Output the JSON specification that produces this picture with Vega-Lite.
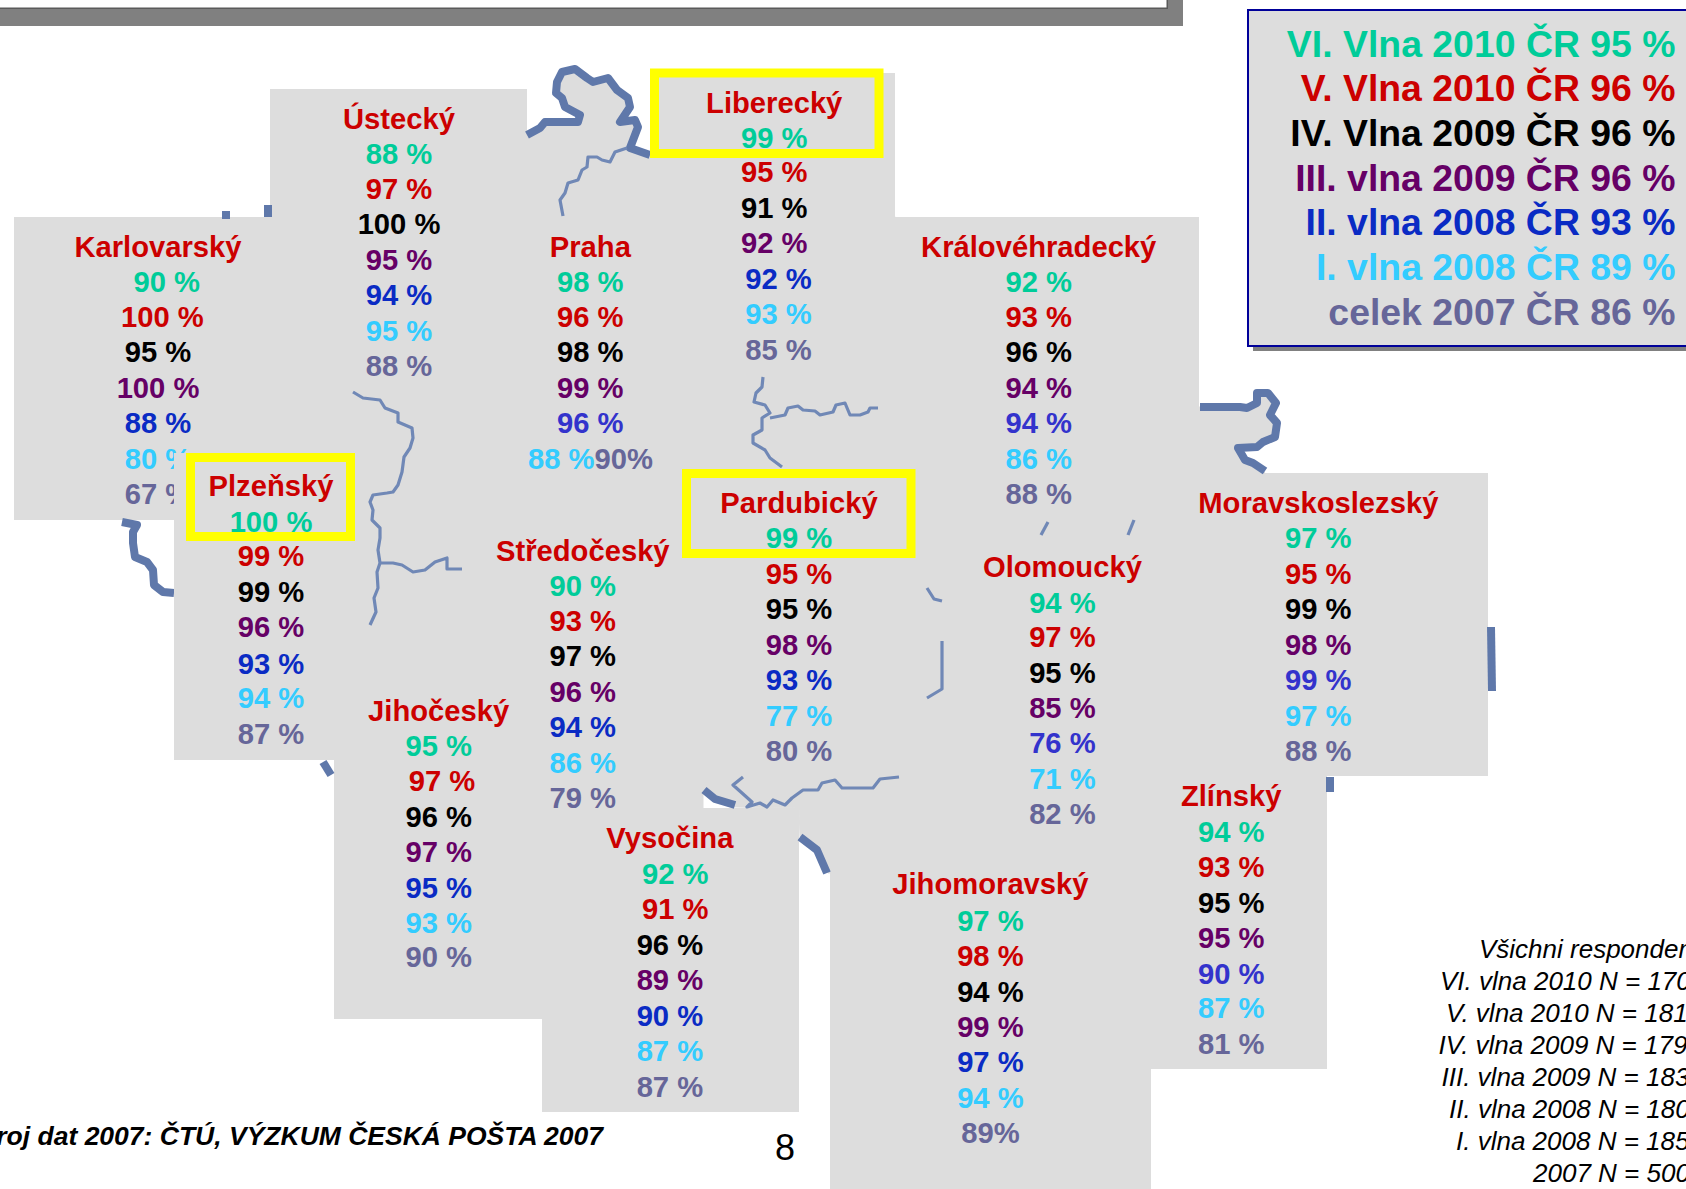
{"$schema":"https://vega.github.io/schema/vega-lite/v6.json","width":1686,"height":1189,"padding":0,"autosize":{"type":"none"},"background":"white","config":{"view":{"stroke":null},"text":{"font":"Liberation Sans"}},
"datasets":{
"band":[{"name":"horní pás","kind":"shadow","x0":0,"x1":1183,"y0":8,"y1":26},{"name":"horní pás bok","kind":"shadow","x0":1167,"x1":1183,"y0":0,"y1":26},{"name":"linka","kind":"edge","x0":0,"x1":1167,"y0":7.5,"y1":9},{"name":"linka bok","kind":"edge","x0":1166.5,"x1":1168,"y0":0,"y1":9},{"name":"stín legendy","kind":"shadow","x0":1253,"x1":1700,"y0":14,"y1":351}],
"country":[{"seq":1,"mx":527,"my":135},{"seq":2,"mx":540,"my":128},{"seq":3,"mx":545,"my":122},{"seq":4,"mx":578,"my":122},{"seq":5,"mx":580,"my":115},{"seq":6,"mx":565,"my":107},{"seq":7,"mx":562,"my":98},{"seq":8,"mx":556,"my":93},{"seq":9,"mx":557,"my":82},{"seq":10,"mx":562,"my":72},{"seq":11,"mx":575,"my":69},{"seq":12,"mx":587,"my":78},{"seq":13,"mx":593,"my":82},{"seq":14,"mx":608,"my":78},{"seq":15,"mx":617,"my":90},{"seq":16,"mx":628,"my":98},{"seq":17,"mx":630,"my":107},{"seq":18,"mx":620,"my":122},{"seq":19,"mx":635,"my":120},{"seq":20,"mx":638,"my":127},{"seq":21,"mx":630,"my":148},{"seq":22,"mx":650,"my":155},{"seq":23,"mx":895,"my":217},{"seq":24,"mx":1199,"my":407},{"seq":25,"mx":1240,"my":407},{"seq":26,"mx":1247,"my":408},{"seq":27,"mx":1257,"my":403},{"seq":28,"mx":1257,"my":393},{"seq":29,"mx":1268,"my":393},{"seq":30,"mx":1276,"my":403},{"seq":31,"mx":1270,"my":415},{"seq":32,"mx":1277,"my":423},{"seq":33,"mx":1275,"my":437},{"seq":34,"mx":1263,"my":442},{"seq":35,"mx":1257,"my":447},{"seq":36,"mx":1238,"my":448},{"seq":37,"mx":1245,"my":460},{"seq":38,"mx":1253,"my":463},{"seq":39,"mx":1265,"my":473},{"seq":40,"mx":1327,"my":776},{"seq":41,"mx":1151,"my":860},{"seq":42,"mx":828,"my":873},{"seq":43,"mx":817,"my":850},{"seq":44,"mx":800,"my":837},{"seq":45,"mx":799,"my":808},{"seq":46,"mx":735,"my":807},{"seq":47,"mx":715,"my":800},{"seq":48,"mx":703,"my":790},{"seq":49,"mx":703,"my":808},{"seq":50,"mx":542,"my":808},{"seq":51,"mx":334,"my":760},{"seq":52,"mx":300,"my":500},{"seq":53,"mx":300,"my":217}],
"panels":[{"name":"Ústecký","x0":270,"x1":527,"y0":89,"y1":390},{"name":"Karlovarský","x0":14,"x1":300,"y0":217,"y1":520},{"name":"Liberecký","x0":650,"x1":895,"y0":73,"y1":217},{"name":"Královéhradecký","x0":895,"x1":1199,"y0":217,"y1":520},{"name":"Moravskoslezský","x0":1199,"x1":1488,"y0":473,"y1":776},{"name":"Zlínský","x0":1090,"x1":1327,"y0":776,"y1":1069},{"name":"Jihomoravský","x0":830,"x1":1151,"y0":860,"y1":1189},{"name":"Vysočina","x0":542,"x1":799,"y0":808,"y1":1112},{"name":"Jihočeský","x0":334,"x1":542,"y0":700,"y1":1019}],
"plzen":[{"name":"Plzeňský","x0":174,"x1":366,"y0":453,"y1":760}],
"legendbox":[{"name":"legenda","x0":1248,"x1":1700,"y0":10,"y1":346}],
"yellow":[{"name":"Liberecký","x0":654.5,"x1":879,"y0":73,"y1":153.5},{"name":"Pardubický","x0":686.5,"x1":911,"y0":473.5,"y1":553.5},{"name":"Plzeňský","x0":190.5,"x1":350.5,"y0":457.5,"y1":536.5}],
"thick":[
{"path":"a","seq":1,"mx":527,"my":135},{"path":"a","seq":2,"mx":540,"my":128},{"path":"a","seq":3,"mx":545,"my":122},{"path":"a","seq":4,"mx":578,"my":122},{"path":"a","seq":5,"mx":580,"my":115},{"path":"a","seq":6,"mx":565,"my":107},{"path":"a","seq":7,"mx":562,"my":98},{"path":"a","seq":8,"mx":556,"my":93},{"path":"a","seq":9,"mx":557,"my":82},{"path":"a","seq":10,"mx":562,"my":72},{"path":"a","seq":11,"mx":575,"my":69},{"path":"a","seq":12,"mx":587,"my":78},{"path":"a","seq":13,"mx":593,"my":82},{"path":"a","seq":14,"mx":608,"my":78},{"path":"a","seq":15,"mx":617,"my":90},{"path":"a","seq":16,"mx":628,"my":98},{"path":"a","seq":17,"mx":630,"my":107},{"path":"a","seq":18,"mx":620,"my":122},{"path":"a","seq":19,"mx":635,"my":120},{"path":"a","seq":20,"mx":638,"my":127},{"path":"a","seq":21,"mx":630,"my":148},{"path":"a","seq":22,"mx":650,"my":155},
{"path":"b","seq":1,"mx":1200,"my":407},{"path":"b","seq":2,"mx":1240,"my":407},{"path":"b","seq":3,"mx":1247,"my":408},{"path":"b","seq":4,"mx":1257,"my":403},{"path":"b","seq":5,"mx":1257,"my":393},{"path":"b","seq":6,"mx":1268,"my":393},{"path":"b","seq":7,"mx":1276,"my":403},{"path":"b","seq":8,"mx":1270,"my":415},{"path":"b","seq":9,"mx":1277,"my":423},{"path":"b","seq":10,"mx":1275,"my":437},{"path":"b","seq":11,"mx":1263,"my":442},{"path":"b","seq":12,"mx":1257,"my":447},{"path":"b","seq":13,"mx":1238,"my":448},{"path":"b","seq":14,"mx":1245,"my":460},{"path":"b","seq":15,"mx":1253,"my":463},{"path":"b","seq":16,"mx":1265,"my":471},
{"path":"c","seq":1,"mx":122,"my":522},{"path":"c","seq":2,"mx":137,"my":525},{"path":"c","seq":3,"mx":133,"my":532},{"path":"c","seq":4,"mx":133,"my":543},{"path":"c","seq":5,"mx":135,"my":557},{"path":"c","seq":6,"mx":147,"my":562},{"path":"c","seq":7,"mx":153,"my":570},{"path":"c","seq":8,"mx":154,"my":585},{"path":"c","seq":9,"mx":163,"my":592},{"path":"c","seq":10,"mx":174,"my":593},
{"path":"d","seq":1,"mx":323,"my":762},{"path":"d","seq":2,"mx":331,"my":775},
{"path":"e","seq":1,"mx":704,"my":790},{"path":"e","seq":2,"mx":715,"my":799},{"path":"e","seq":3,"mx":735,"my":805},
{"path":"f","seq":1,"mx":800,"my":837},{"path":"f","seq":2,"mx":817,"my":850},{"path":"f","seq":3,"mx":827,"my":873},
{"path":"g","seq":1,"mx":1491,"my":627},{"path":"g","seq":2,"mx":1492,"my":691},
{"path":"h","seq":1,"mx":1330,"my":777},{"path":"h","seq":2,"mx":1330,"my":792},
{"path":"i","seq":1,"mx":222,"my":215},{"path":"i","seq":2,"mx":230,"my":215},
{"path":"j","seq":1,"mx":268,"my":205},{"path":"j","seq":2,"mx":268,"my":217}],
"thin":[
{"path":"r1","seq":1,"mx":627,"my":148},{"path":"r1","seq":2,"mx":615,"my":152},{"path":"r1","seq":3,"mx":610,"my":162},{"path":"r1","seq":4,"mx":602,"my":160},{"path":"r1","seq":5,"mx":597,"my":157},{"path":"r1","seq":6,"mx":588,"my":157},{"path":"r1","seq":7,"mx":587,"my":167},{"path":"r1","seq":8,"mx":582,"my":170},{"path":"r1","seq":9,"mx":578,"my":180},{"path":"r1","seq":10,"mx":568,"my":183},{"path":"r1","seq":11,"mx":565,"my":193},{"path":"r1","seq":12,"mx":560,"my":200},{"path":"r1","seq":13,"mx":563,"my":216},
{"path":"r2","seq":1,"mx":353,"my":392},{"path":"r2","seq":2,"mx":363,"my":398},{"path":"r2","seq":3,"mx":380,"my":400},{"path":"r2","seq":4,"mx":385,"my":408},{"path":"r2","seq":5,"mx":398,"my":413},{"path":"r2","seq":6,"mx":398,"my":422},{"path":"r2","seq":7,"mx":412,"my":428},{"path":"r2","seq":8,"mx":413,"my":438},{"path":"r2","seq":9,"mx":410,"my":448},{"path":"r2","seq":10,"mx":404,"my":457},{"path":"r2","seq":11,"mx":402,"my":472},{"path":"r2","seq":12,"mx":398,"my":485},{"path":"r2","seq":13,"mx":393,"my":492},{"path":"r2","seq":14,"mx":387,"my":493},{"path":"r2","seq":15,"mx":373,"my":495},{"path":"r2","seq":16,"mx":370,"my":502},{"path":"r2","seq":17,"mx":373,"my":510},{"path":"r2","seq":18,"mx":372,"my":520},{"path":"r2","seq":19,"mx":380,"my":528},{"path":"r2","seq":20,"mx":380,"my":538},{"path":"r2","seq":21,"mx":378,"my":550},{"path":"r2","seq":22,"mx":380,"my":563},{"path":"r2","seq":23,"mx":377,"my":572},{"path":"r2","seq":24,"mx":378,"my":588},{"path":"r2","seq":25,"mx":374,"my":598},{"path":"r2","seq":26,"mx":376,"my":612},{"path":"r2","seq":27,"mx":370,"my":625},
{"path":"r3","seq":1,"mx":380,"my":563},{"path":"r3","seq":2,"mx":393,"my":563},{"path":"r3","seq":3,"mx":402,"my":565},{"path":"r3","seq":4,"mx":413,"my":572},{"path":"r3","seq":5,"mx":425,"my":570},{"path":"r3","seq":6,"mx":435,"my":562},{"path":"r3","seq":7,"mx":447,"my":558},{"path":"r3","seq":8,"mx":447,"my":569},{"path":"r3","seq":9,"mx":462,"my":569},
{"path":"r4","seq":1,"mx":763,"my":377},{"path":"r4","seq":2,"mx":762,"my":387},{"path":"r4","seq":3,"mx":756,"my":393},{"path":"r4","seq":4,"mx":754,"my":402},{"path":"r4","seq":5,"mx":765,"my":405},{"path":"r4","seq":6,"mx":770,"my":413},{"path":"r4","seq":7,"mx":762,"my":418},{"path":"r4","seq":8,"mx":762,"my":430},{"path":"r4","seq":9,"mx":753,"my":435},{"path":"r4","seq":10,"mx":753,"my":443},{"path":"r4","seq":11,"mx":765,"my":450},{"path":"r4","seq":12,"mx":770,"my":458},{"path":"r4","seq":13,"mx":782,"my":467},
{"path":"r5","seq":1,"mx":770,"my":418},{"path":"r5","seq":2,"mx":785,"my":415},{"path":"r5","seq":3,"mx":788,"my":408},{"path":"r5","seq":4,"mx":798,"my":406},{"path":"r5","seq":5,"mx":803,"my":410},{"path":"r5","seq":6,"mx":815,"my":411},{"path":"r5","seq":7,"mx":820,"my":415},{"path":"r5","seq":8,"mx":833,"my":412},{"path":"r5","seq":9,"mx":836,"my":405},{"path":"r5","seq":10,"mx":845,"my":403},{"path":"r5","seq":11,"mx":850,"my":415},{"path":"r5","seq":12,"mx":860,"my":415},{"path":"r5","seq":13,"mx":868,"my":412},{"path":"r5","seq":14,"mx":870,"my":408},{"path":"r5","seq":15,"mx":878,"my":408},
{"path":"r6","seq":1,"mx":743,"my":777},{"path":"r6","seq":2,"mx":733,"my":785},{"path":"r6","seq":3,"mx":742,"my":793},{"path":"r6","seq":4,"mx":752,"my":802},{"path":"r6","seq":5,"mx":747,"my":807},{"path":"r6","seq":6,"mx":760,"my":803},{"path":"r6","seq":7,"mx":767,"my":807},{"path":"r6","seq":8,"mx":773,"my":800},{"path":"r6","seq":9,"mx":785,"my":805},{"path":"r6","seq":10,"mx":792,"my":798},{"path":"r6","seq":11,"mx":803,"my":790},{"path":"r6","seq":12,"mx":818,"my":790},{"path":"r6","seq":13,"mx":822,"my":783},{"path":"r6","seq":14,"mx":835,"my":780},{"path":"r6","seq":15,"mx":842,"my":788},{"path":"r6","seq":16,"mx":873,"my":788},{"path":"r6","seq":17,"mx":880,"my":779},{"path":"r6","seq":18,"mx":899,"my":777},
{"path":"r7","seq":1,"mx":927,"my":588},{"path":"r7","seq":2,"mx":934,"my":599},{"path":"r7","seq":3,"mx":942,"my":601},
{"path":"r8","seq":1,"mx":942,"my":641},{"path":"r8","seq":2,"mx":942,"my":689},{"path":"r8","seq":3,"mx":927,"my":698},
{"path":"r9","seq":1,"mx":1041,"my":535},{"path":"r9","seq":2,"mx":1048,"my":522},
{"path":"r10","seq":1,"mx":1128,"my":535},{"path":"r10","seq":2,"mx":1134,"my":520}],
"karlovarsky":[
{"region":"Karlovarský","wave":"Kraj","label":"Karlovarský","mx":158,"my":256.6},{"region":"Karlovarský","wave":"VI","label":"90 %","mx":166.7,"my":292.1},{"region":"Karlovarský","wave":"V","label":"100 %","mx":162.4,"my":326.5},{"region":"Karlovarský","wave":"IV","label":"95 %","mx":158,"my":362},{"region":"Karlovarský","wave":"III","label":"100 %","mx":158,"my":397.5},{"region":"Karlovarský","wave":"II","label":"88 %","mx":158,"my":433},{"region":"Karlovarský","wave":"I","label":"80 %","mx":158,"my":468.5},{"region":"Karlovarský","wave":"2007","label":"67 %","mx":158,"my":504}],
"regions":[
{"region":"Ústecký","wave":"Kraj","label":"Ústecký","mx":399,"my":128.7},{"region":"Ústecký","wave":"VI","label":"88 %","mx":399,"my":164.2},{"region":"Ústecký","wave":"V","label":"97 %","mx":399,"my":198.6},{"region":"Ústecký","wave":"IV","label":"100 %","mx":399,"my":234.1},{"region":"Ústecký","wave":"III","label":"95 %","mx":399,"my":269.5},{"region":"Ústecký","wave":"II","label":"94 %","mx":399,"my":305},{"region":"Ústecký","wave":"I","label":"95 %","mx":399,"my":340.5},{"region":"Ústecký","wave":"2007","label":"88 %","mx":399,"my":376},
{"region":"Plzeňský","wave":"Kraj","label":"Plzeňský","mx":271,"my":496.4},{"region":"Plzeňský","wave":"VI","label":"100 %","mx":271,"my":531.9},{"region":"Plzeňský","wave":"V","label":"99 %","mx":271,"my":566.3},{"region":"Plzeňský","wave":"IV","label":"99 %","mx":271,"my":601.8},{"region":"Plzeňský","wave":"III","label":"96 %","mx":271,"my":637.3},{"region":"Plzeňský","wave":"II","label":"93 %","mx":271,"my":673.9},{"region":"Plzeňský","wave":"I","label":"94 %","mx":271,"my":708.3},{"region":"Plzeňský","wave":"2007","label":"87 %","mx":271,"my":743.7},
{"region":"Praha","wave":"Kraj","label":"Praha","mx":590.3,"my":256.6},{"region":"Praha","wave":"VI","label":"98 %","mx":590.3,"my":292.1},{"region":"Praha","wave":"V","label":"96 %","mx":590.3,"my":326.5},{"region":"Praha","wave":"IV","label":"98 %","mx":590.3,"my":362},{"region":"Praha","wave":"III","label":"99 %","mx":590.3,"my":397.5},{"region":"Praha","wave":"IIb","label":"96 %","mx":590.3,"my":433},{"region":"Praha","wave":"I","label":"88 %","mx":561.3,"my":468.5},{"region":"Praha","wave":"2007","label":"90%","mx":623.7,"my":468.5},
{"region":"Liberecký","wave":"Kraj","label":"Liberecký","mx":774.2,"my":112.6},{"region":"Liberecký","wave":"VI","label":"99 %","mx":774.2,"my":148},{"region":"Liberecký","wave":"V","label":"95 %","mx":774.2,"my":182.4},{"region":"Liberecký","wave":"IV","label":"91 %","mx":774.2,"my":217.9},{"region":"Liberecký","wave":"III","label":"92 %","mx":774.2,"my":253.4},{"region":"Liberecký","wave":"II","label":"92 %","mx":778.5,"my":288.9},{"region":"Liberecký","wave":"I","label":"93 %","mx":778.5,"my":324.4},{"region":"Liberecký","wave":"2007","label":"85 %","mx":778.5,"my":359.9},
{"region":"Královéhradecký","wave":"Kraj","label":"Královéhradecký","mx":1038.7,"my":256.6},{"region":"Královéhradecký","wave":"VI","label":"92 %","mx":1038.7,"my":292.1},{"region":"Královéhradecký","wave":"V","label":"93 %","mx":1038.7,"my":326.5},{"region":"Královéhradecký","wave":"IV","label":"96 %","mx":1038.7,"my":362},{"region":"Královéhradecký","wave":"III","label":"94 %","mx":1038.7,"my":397.5},{"region":"Královéhradecký","wave":"IIb","label":"94 %","mx":1038.7,"my":433},{"region":"Královéhradecký","wave":"I","label":"86 %","mx":1038.7,"my":468.5},{"region":"Královéhradecký","wave":"2007","label":"88 %","mx":1038.7,"my":504},
{"region":"Pardubický","wave":"Kraj","label":"Pardubický","mx":799,"my":512.6},{"region":"Pardubický","wave":"VI","label":"99 %","mx":799,"my":548.1},{"region":"Pardubický","wave":"V","label":"95 %","mx":799,"my":583.5},{"region":"Pardubický","wave":"IV","label":"95 %","mx":799,"my":619},{"region":"Pardubický","wave":"III","label":"98 %","mx":799,"my":654.5},{"region":"Pardubický","wave":"II","label":"93 %","mx":799,"my":690},{"region":"Pardubický","wave":"I","label":"77 %","mx":799,"my":725.5},{"region":"Pardubický","wave":"2007","label":"80 %","mx":799,"my":760.9},
{"region":"Středočeský","wave":"Kraj","label":"Středočeský","mx":582.8,"my":560.9},{"region":"Středočeský","wave":"VI","label":"90 %","mx":582.8,"my":596.4},{"region":"Středočeský","wave":"V","label":"93 %","mx":582.8,"my":630.8},{"region":"Středočeský","wave":"IV","label":"97 %","mx":582.8,"my":666.3},{"region":"Středočeský","wave":"III","label":"96 %","mx":582.8,"my":701.8},{"region":"Středočeský","wave":"II","label":"94 %","mx":582.8,"my":737.3},{"region":"Středočeský","wave":"I","label":"86 %","mx":582.8,"my":772.8},{"region":"Středočeský","wave":"2007","label":"79 %","mx":582.8,"my":808.3},
{"region":"Jihočeský","wave":"Kraj","label":"Jihočeský","mx":438.7,"my":721.2},{"region":"Jihočeský","wave":"VI","label":"95 %","mx":438.7,"my":755.6},{"region":"Jihočeský","wave":"V","label":"97 %","mx":442,"my":791.1},{"region":"Jihočeský","wave":"IV","label":"96 %","mx":438.7,"my":826.6},{"region":"Jihočeský","wave":"III","label":"97 %","mx":438.7,"my":862},{"region":"Jihočeský","wave":"II","label":"95 %","mx":438.7,"my":897.5},{"region":"Jihočeský","wave":"I","label":"93 %","mx":438.7,"my":933},{"region":"Jihočeský","wave":"2007","label":"90 %","mx":438.7,"my":967.4},
{"region":"Vysočina","wave":"Kraj","label":"Vysočina","mx":669.9,"my":848.1},{"region":"Vysočina","wave":"VI","label":"92 %","mx":675.3,"my":883.6},{"region":"Vysočina","wave":"V","label":"91 %","mx":675.3,"my":919},{"region":"Vysočina","wave":"IV","label":"96 %","mx":669.9,"my":954.5},{"region":"Vysočina","wave":"III","label":"89 %","mx":669.9,"my":990},{"region":"Vysočina","wave":"II","label":"90 %","mx":669.9,"my":1025.5},{"region":"Vysočina","wave":"I","label":"87 %","mx":669.9,"my":1061},{"region":"Vysočina","wave":"2007","label":"87 %","mx":669.9,"my":1096.5},
{"region":"Olomoucký","wave":"Kraj","label":"Olomoucký","mx":1062.4,"my":577.1},{"region":"Olomoucký","wave":"VI","label":"94 %","mx":1062.4,"my":612.6},{"region":"Olomoucký","wave":"V","label":"97 %","mx":1062.4,"my":647},{"region":"Olomoucký","wave":"IV","label":"95 %","mx":1062.4,"my":682.5},{"region":"Olomoucký","wave":"III","label":"85 %","mx":1062.4,"my":717.9},{"region":"Olomoucký","wave":"IIb","label":"76 %","mx":1062.4,"my":753.4},{"region":"Olomoucký","wave":"I","label":"71 %","mx":1062.4,"my":788.9},{"region":"Olomoucký","wave":"2007","label":"82 %","mx":1062.4,"my":824.4},
{"region":"Moravskoslezský","wave":"Kraj","label":"Moravskoslezský","mx":1318.3,"my":512.6},{"region":"Moravskoslezský","wave":"VI","label":"97 %","mx":1318.3,"my":548.1},{"region":"Moravskoslezský","wave":"V","label":"95 %","mx":1318.3,"my":583.5},{"region":"Moravskoslezský","wave":"IV","label":"99 %","mx":1318.3,"my":619},{"region":"Moravskoslezský","wave":"III","label":"98 %","mx":1318.3,"my":654.5},{"region":"Moravskoslezský","wave":"IIb","label":"99 %","mx":1318.3,"my":690},{"region":"Moravskoslezský","wave":"I","label":"97 %","mx":1318.3,"my":725.5},{"region":"Moravskoslezský","wave":"2007","label":"88 %","mx":1318.3,"my":760.9},
{"region":"Zlínský","wave":"Kraj","label":"Zlínský","mx":1231.2,"my":806.1},{"region":"Zlínský","wave":"VI","label":"94 %","mx":1231.2,"my":841.6},{"region":"Zlínský","wave":"V","label":"93 %","mx":1231.2,"my":877.1},{"region":"Zlínský","wave":"IV","label":"95 %","mx":1231.2,"my":912.6},{"region":"Zlínský","wave":"III","label":"95 %","mx":1231.2,"my":948.1},{"region":"Zlínský","wave":"IIb","label":"90 %","mx":1231.2,"my":983.5},{"region":"Zlínský","wave":"I","label":"87 %","mx":1231.2,"my":1017.9},{"region":"Zlínský","wave":"2007","label":"81 %","mx":1231.2,"my":1053.5},
{"region":"Jihomoravský","wave":"Kraj","label":"Jihomoravský","mx":990.4,"my":894.3},{"region":"Jihomoravský","wave":"VI","label":"97 %","mx":990.4,"my":930.9},{"region":"Jihomoravský","wave":"V","label":"98 %","mx":990.4,"my":966.4},{"region":"Jihomoravský","wave":"IV","label":"94 %","mx":990.4,"my":1001.8},{"region":"Jihomoravský","wave":"III","label":"99 %","mx":990.4,"my":1037.3},{"region":"Jihomoravský","wave":"II","label":"97 %","mx":990.4,"my":1071.7},{"region":"Jihomoravský","wave":"I","label":"94 %","mx":990.4,"my":1108.3},{"region":"Jihomoravský","wave":"2007","label":"89%","mx":990.4,"my":1142.7}],
"legend":[{"wave":"VI","label":"VI. Vlna 2010 ČR 95 %","mx":1675.5,"my":56.6},{"wave":"V","label":"V. Vlna 2010 ČR 96 %","mx":1675.5,"my":101.4},{"wave":"IV","label":"IV. Vlna 2009 ČR 96 %","mx":1675.5,"my":145.8},{"wave":"III","label":"III. vlna 2009 ČR 96 %","mx":1675.5,"my":190.6},{"wave":"II","label":"II. vlna 2008 ČR 93 %","mx":1675.5,"my":235.4},{"wave":"I","label":"I. vlna 2008 ČR 89 %","mx":1675.5,"my":280},{"wave":"2007","label":"celek 2007 ČR 86 %","mx":1675.5,"my":325}],
"sample":[{"label":"Všichni respondenti","mx":1479,"my":958},{"label":"VI. vlna 2010 N = 170","mx":1440,"my":990},{"label":"V. vlna 2010 N = 181","mx":1446,"my":1022},{"label":"IV. vlna 2009 N = 179","mx":1438.5,"my":1054},{"label":"III. vlna 2009 N = 183","mx":1441.5,"my":1086},{"label":"II. vlna 2008 N = 180","mx":1449,"my":1118},{"label":"I. vlna 2008 N = 185","mx":1456,"my":1149.5},{"label":"2007 N = 500","mx":1533,"my":1181.5}],
"source":[{"label":"Zdroj dat 2007: ČTÚ, VÝZKUM ČESKÁ POŠTA 2007","mx":603,"my":1145}],
"page":[{"label":"8","mx":785,"my":1160}]
},
"layer":[
{"data":{"name":"band"},"mark":{"type":"rect"},"encoding":{"x":{"field":"x0","type":"quantitative","scale":{"domain":[0,1686],"nice":false,"zero":false},"axis":null},"x2":{"field":"x1"},"y":{"field":"y0","type":"quantitative","scale":{"domain":[1189,0],"nice":false,"zero":false},"axis":null},"y2":{"field":"y1"},"fill":{"field":"kind","type":"nominal","scale":{"domain":["shadow","edge"],"range":["#808080","#5A5A5A"]},"legend":null}}},
{"data":{"name":"country"},"mark":{"type":"line","fill":"#DDDDDD","stroke":"#DDDDDD","strokeWidth":1},"encoding":{"x":{"field":"mx","type":"quantitative","axis":null},"y":{"field":"my","type":"quantitative","axis":null},"order":{"field":"seq"}}},
{"data":{"name":"panels"},"mark":{"type":"rect","fill":"#DDDDDD"},"encoding":{"x":{"field":"x0","type":"quantitative","axis":null},"x2":{"field":"x1"},"y":{"field":"y0","type":"quantitative","axis":null},"y2":{"field":"y1"}}},
{"data":{"name":"thick"},"mark":{"type":"line","stroke":"#5F78AA","strokeWidth":8,"strokeJoin":"round"},"encoding":{"x":{"field":"mx","type":"quantitative","axis":null},"y":{"field":"my","type":"quantitative","axis":null},"detail":{"field":"path"},"order":{"field":"seq"}}},
{"data":{"name":"thin"},"mark":{"type":"line","stroke":"#7088B6","strokeWidth":3.2,"strokeJoin":"round"},"encoding":{"x":{"field":"mx","type":"quantitative","axis":null},"y":{"field":"my","type":"quantitative","axis":null},"detail":{"field":"path"},"order":{"field":"seq"}}},
{"data":{"name":"karlovarsky"},"mark":{"type":"text","font":"Liberation Sans","fontWeight":"bold","fontSize":29.2,"align":"center","baseline":"alphabetic"},"encoding":{"x":{"field":"mx","type":"quantitative","axis":null},"y":{"field":"my","type":"quantitative","axis":null},"text":{"field":"label"},"color":{"field":"wave","type":"nominal","scale":{"domain":["Kraj","VI","V","IV","III","II","IIb","I","2007"],"range":["#CC0000","#00CC99","#CC0000","#000000","#660066","#0A2BC4","#3333CC","#33CCFF","#666699"]},"legend":null}}},
{"data":{"name":"plzen"},"mark":{"type":"rect","fill":"#DDDDDD"},"encoding":{"x":{"field":"x0","type":"quantitative","axis":null},"x2":{"field":"x1"},"y":{"field":"y0","type":"quantitative","axis":null},"y2":{"field":"y1"}}},
{"data":{"name":"legendbox"},"mark":{"type":"rect","fill":"#DDDDDD","stroke":"#000099","strokeWidth":2},"encoding":{"x":{"field":"x0","type":"quantitative","axis":null},"x2":{"field":"x1"},"y":{"field":"y0","type":"quantitative","axis":null},"y2":{"field":"y1"}}},
{"data":{"name":"yellow"},"mark":{"type":"rect","fill":null,"stroke":"#FFFF00","strokeWidth":9},"encoding":{"x":{"field":"x0","type":"quantitative","axis":null},"x2":{"field":"x1"},"y":{"field":"y0","type":"quantitative","axis":null},"y2":{"field":"y1"}}},
{"data":{"name":"regions"},"mark":{"type":"text","font":"Liberation Sans","fontWeight":"bold","fontSize":29.2,"align":"center","baseline":"alphabetic"},"encoding":{"x":{"field":"mx","type":"quantitative","axis":null},"y":{"field":"my","type":"quantitative","axis":null},"text":{"field":"label"},"color":{"field":"wave","type":"nominal","legend":null}}},
{"data":{"name":"legend"},"mark":{"type":"text","font":"Liberation Sans","fontWeight":"bold","fontSize":37.4,"align":"right","baseline":"alphabetic"},"encoding":{"x":{"field":"mx","type":"quantitative","axis":null},"y":{"field":"my","type":"quantitative","axis":null},"text":{"field":"label"},"color":{"field":"wave","type":"nominal","legend":null}}},
{"data":{"name":"sample"},"mark":{"type":"text","font":"Liberation Sans","fontStyle":"italic","fontSize":26,"align":"left","baseline":"alphabetic","fill":"#000000"},"encoding":{"x":{"field":"mx","type":"quantitative","axis":null},"y":{"field":"my","type":"quantitative","axis":null},"text":{"field":"label"}}},
{"data":{"name":"source"},"mark":{"type":"text","font":"Liberation Sans","fontStyle":"italic","fontWeight":"bold","fontSize":26.5,"align":"right","baseline":"alphabetic","fill":"#000000"},"encoding":{"x":{"field":"mx","type":"quantitative","axis":null},"y":{"field":"my","type":"quantitative","axis":null},"text":{"field":"label"}}},
{"data":{"name":"page"},"mark":{"type":"text","font":"Liberation Sans","fontSize":36,"align":"center","baseline":"alphabetic","fill":"#000000"},"encoding":{"x":{"field":"mx","type":"quantitative","axis":null},"y":{"field":"my","type":"quantitative","axis":null},"text":{"field":"label"}}}
]}
